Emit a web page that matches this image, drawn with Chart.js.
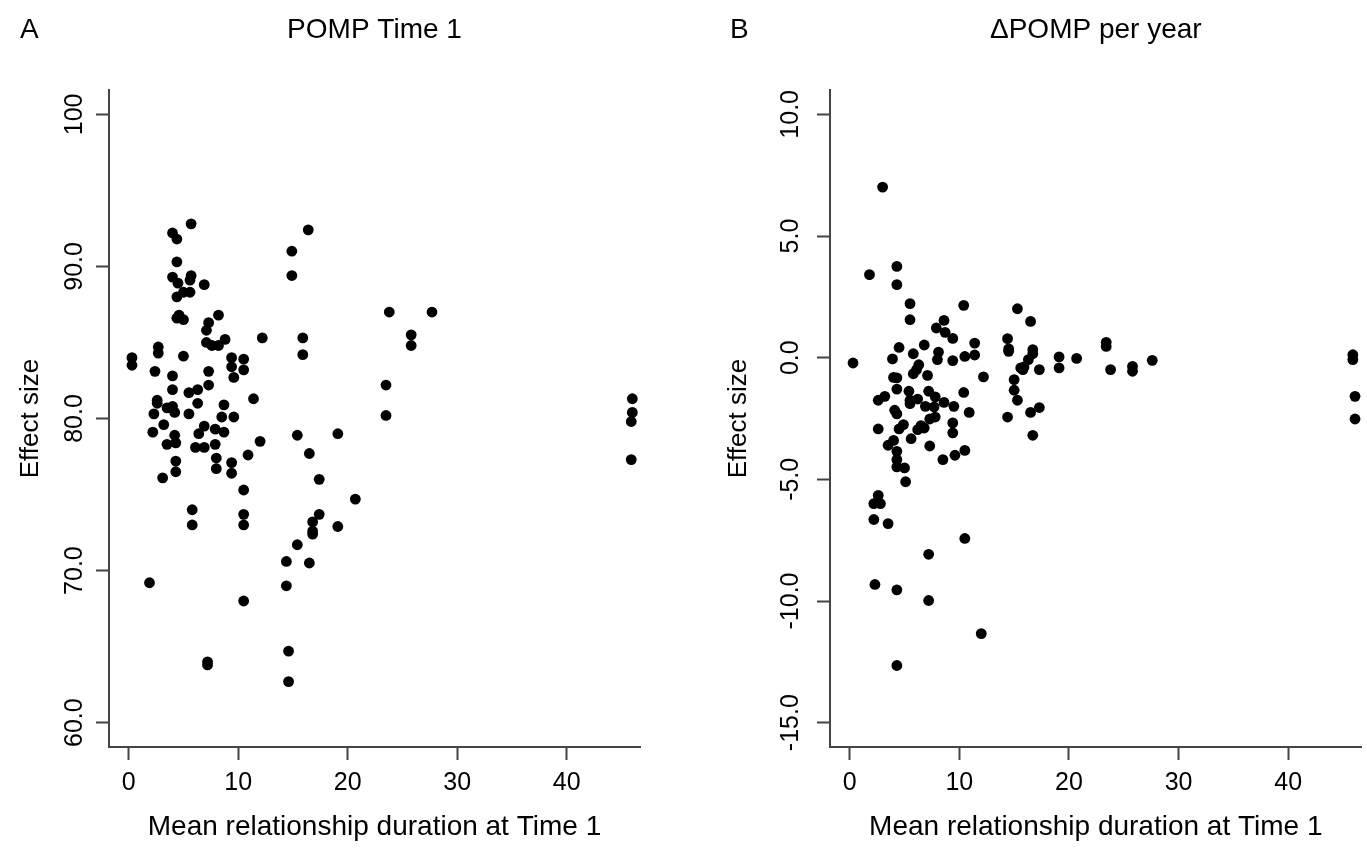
<!DOCTYPE html>
<html>
<head>
<meta charset="utf-8">
<script src="https://cdn.jsdelivr.net/npm/chart.js@4.4.1/dist/chart.umd.min.js"></script>
<style>
	html, body { margin: 0; padding: 0; background: #fff; }
	#wrap { position: relative; width: 1367px; height: 860px; }
	canvas { position: absolute; top: 0; }
	#chartA { left: 0; }
	#chartB { left: 683px; }
</style>
</head>
<body>
<div id="wrap">
	<canvas id="chartA" width="683" height="860"></canvas>
	<canvas id="chartB" width="684" height="860"></canvas>
</div>
<script>
// panel A - POMP at Time 1 against mean relationship duration
const durationA = [5.7, 4.0, 4.4, 4.4, 14.9, 14.9, 4.0, 4.5, 5.7, 5.6, 6.9, 5.0, 5.6, 4.4, 4.4, 5.0, 4.6, 8.2, 7.3, 7.1,
	7.1, 7.6, 8.2, 8.8, 12.2, 2.7, 2.7, 0.3, 0.3, 5.0, 9.4, 9.4, 10.5, 10.5, 2.4, 7.3, 4.0, 9.6, 7.3, 4.0,
	6.3, 5.5, 2.6, 2.6, 11.4, 6.3, 8.7, 3.5, 4.0, 4.2, 2.3, 5.5, 8.5, 9.6, 3.2, 2.2, 6.9, 6.4, 7.9, 8.7,
	4.2, 3.5, 4.3, 6.1, 6.9, 7.9, 12.0, 10.9, 4.3, 4.3, 8.0, 8.0, 9.4, 9.4, 3.1, 10.5, 5.8, 5.8, 10.5, 10.5,
	1.9, 10.5, 7.2, 7.2, 16.4, 23.8, 27.7, 25.8, 25.8, 15.9, 15.9, 23.5, 23.5, 15.4, 19.1, 16.5, 17.4, 20.7, 17.4, 16.8,
	16.8, 16.8, 19.1, 15.4, 14.4, 16.5, 14.4, 14.6, 14.6, 46.0, 46.0, 45.9, 45.9]
const pompA = [92.8, 92.2, 91.8, 90.3, 91.0, 89.4, 89.3, 88.9, 89.4, 89.1, 88.8, 88.3, 88.3, 88.0, 86.6, 86.5, 86.8, 86.8, 86.3, 85.8,
	85.0, 84.8, 84.8, 85.2, 85.3, 84.7, 84.3, 84.0, 83.5, 84.1, 84.0, 83.4, 83.9, 83.2, 83.1, 83.1, 82.8, 82.7, 82.2, 81.9,
	81.9, 81.7, 81.2, 81.0, 81.3, 81.0, 80.9, 80.7, 80.8, 80.4, 80.3, 80.3, 80.1, 80.1, 79.6, 79.1, 79.5, 79.0, 79.3, 79.1,
	78.9, 78.3, 78.4, 78.1, 78.1, 78.3, 78.5, 77.6, 77.2, 76.5, 77.4, 76.7, 77.1, 76.4, 76.1, 75.3, 74.0, 73.0, 73.7, 73.0,
	69.2, 68.0, 64.0, 63.8, 92.4, 87.0, 87.0, 85.5, 84.8, 85.3, 84.2, 82.2, 80.2, 78.9, 79.0, 77.7, 76.0, 74.7, 73.7, 73.2,
	72.6, 72.4, 72.9, 71.7, 70.6, 70.5, 69.0, 64.7, 62.7, 81.3, 80.4, 79.8, 77.3]

// panel B - change in POMP per year
const durationB = [3.0, 1.8, 4.3, 4.3, 5.5, 5.5, 10.4, 15.3, 8.6, 7.9, 8.7, 9.4, 4.5, 6.8, 11.4, 14.4, 14.5, 14.5, 0.3, 3.9,
	5.8, 8.1, 8.0, 9.4, 10.5, 11.4, 6.3, 6.1, 5.8, 4.0, 4.3, 7.1, 12.2, 15.0, 15.6, 4.3, 5.4, 7.2, 10.4, 15.0,
	2.6, 3.2, 5.5, 6.2, 5.5, 7.8, 8.6, 9.5, 6.9, 7.7, 7.8, 7.3, 4.1, 4.3, 10.9, 14.4, 15.3, 2.6, 4.5, 4.9,
	6.2, 6.5, 6.8, 9.4, 9.4, 5.6, 4.0, 3.5, 7.3, 4.3, 4.3, 4.3, 5.0, 8.5, 9.6, 10.5, 5.1, 2.6, 2.2, 2.8,
	2.2, 3.5, 10.5, 7.2, 2.3, 4.3, 7.2, 12.0, 4.3, 16.5, 16.7, 16.7, 16.3, 15.9, 15.8, 17.3, 19.1, 19.1, 20.7, 23.4,
	23.4, 23.8, 25.8, 25.8, 27.6, 16.5, 17.3, 16.7, 45.9, 45.9, 46.1, 46.1]
const deltaB = [7.01, 3.41, 3.75, 3.00, 2.22, 1.56, 2.15, 2.01, 1.53, 1.22, 1.04, 0.79, 0.42, 0.52, 0.60, 0.78, 0.36, 0.26, -0.22, -0.05,
	0.16, 0.23, -0.08, -0.12, 0.05, 0.11, -0.29, -0.49, -0.66, -0.81, -0.83, -0.73, -0.79, -0.90, -0.42, -1.29, -1.38, -1.38, -1.43, -1.34,
	-1.75, -1.59, -1.75, -1.70, -1.89, -1.61, -1.84, -2.00, -2.00, -2.02, -2.44, -2.52, -2.16, -2.31, -2.25, -2.44, -1.75, -2.93, -2.93, -2.75,
	-2.96, -2.79, -2.89, -2.68, -3.09, -3.33, -3.40, -3.60, -3.63, -3.85, -4.19, -4.49, -4.53, -4.19, -4.01, -3.81, -5.10, -5.66, -6.00, -6.00,
	-6.65, -6.82, -7.43, -8.08, -9.32, -9.54, -9.98, -11.34, -12.65, 1.49, 0.33, 0.16, -0.08, -0.38, -0.49, -0.49, 0.03, -0.42, -0.03, 0.63,
	0.46, -0.49, -0.36, -0.56, -0.11, -2.25, -2.05, -3.19, 0.12, -0.08, -1.59, -2.52]

const xTicks = [0, 10, 20, 30, 40]
const xTickLabels = ['0', '10', '20', '30', '40']
const yTicksA = [60, 70, 80, 90, 100]
const yTickLabelsA = ['60.0', '70.0', '80.0', '90.0', '100']
const yTicksB = [-15, -10, -5, 0, 5, 10]
const yTickLabelsB = ['-15.0', '-10.0', '-5.0', '0.0', '5.0', '10.0']

const FONT = '"Liberation Sans", Arial, Helvetica, sans-serif'
const AXIS_COLOR = '#444'

// letter + main title above each panel
const panelTitles = {
	id: 'panelTitles',
	afterDraw(chart, args, opts) {
		const ctx = chart.ctx
		const area = chart.chartArea
		ctx.save()
		ctx.fillStyle = '#000'
		ctx.font = '28px ' + FONT
		ctx.textBaseline = 'middle'
		ctx.textAlign = 'left'
		ctx.fillText(opts.letter, opts.letterX, 30)
		ctx.textAlign = 'center'
		ctx.fillText(opts.text, (area.left + area.right) / 2, 30)
		ctx.restore()
	}
}

function makePanel(id, xs, ys, yTicks, yLabels, setup) {
	const points = xs.map((x, i) => ({ x: x, y: ys[i] }))

	const config = {
		type: 'scatter',
		data: {
			datasets: [{
				data: points,
				backgroundColor: '#000',
				borderWidth: 0,
				pointRadius: 5.4,
				pointHoverRadius: 5.4
			}]
		},
		options: {
			responsive: false,
			animation: false,
			events: [],
			layout: {
				padding: { left: 0, top: 90, right: setup.padRight, bottom: 0 }
			},
			plugins: {
				legend: { display: false },
				tooltip: { enabled: false },
				panelTitles: { letter: setup.letter, letterX: setup.letterX, text: setup.title }
			},
			scales: {
				x: {
					type: 'linear',
					min: -1.8,
					max: 46.7,
					afterBuildTicks: (scale) => {
						scale.ticks = xTicks.map(v => ({ value: v }))
					},
					afterFit: (scale) => {
						scale.height = 113
					},
					ticks: {
						color: '#000',
						font: { family: FONT, size: 25 },
						padding: 8,
						maxRotation: 0,
						callback: (value) => xTickLabels[xTicks.indexOf(value)]
					},
					grid: {
						drawOnChartArea: false,
						drawTicks: true,
						tickLength: 13,
						tickWidth: 2,
						tickColor: AXIS_COLOR
					},
					border: { display: true, color: AXIS_COLOR, width: 2 },
					title: {
						display: true,
						text: 'Mean relationship duration at Time 1',
						color: '#000',
						font: { family: FONT, size: 28 },
						padding: { top: 0, bottom: 16 }
					}
				},
				y: {
					type: 'linear',
					min: setup.yMin,
					max: setup.yMax,
					afterBuildTicks: (scale) => {
						scale.ticks = yTicks.map(v => ({ value: v }))
					},
					afterFit: (scale) => {
						scale.width = setup.yWidth
					},
					ticks: {
						color: '#000',
						font: { family: FONT, size: 25 },
						padding: -3,
						minRotation: 90,
						maxRotation: 90,
						crossAlign: 'center',
						callback: (value) => yLabels[yTicks.indexOf(value)]
					},
					grid: {
						drawOnChartArea: false,
						drawTicks: true,
						tickLength: 13,
						tickWidth: 2,
						tickColor: AXIS_COLOR
					},
					border: { display: true, color: AXIS_COLOR, width: 2 },
					title: {
						display: true,
						text: 'Effect size',
						color: '#000',
						font: { family: FONT, size: 26 },
						padding: { top: setup.yTitlePad, bottom: 0 }
					}
				}
			}
		},
		plugins: [panelTitles]
	}

	return new Chart(document.getElementById(id).getContext('2d'), config)
}

makePanel('chartA', durationA, pompA, yTicksA, yTickLabelsA, {
	letter: 'A', letterX: 20, title: 'POMP Time 1',
	yMin: 58.4, yMax: 101.6, yWidth: 109, padRight: 43, yTitlePad: 15
})

makePanel('chartB', durationB, deltaB, yTicksB, yTickLabelsB, {
	letter: 'B', letterX: 47, title: '\u0394POMP per year',
	yMin: -16, yMax: 11, yWidth: 147, padRight: 5, yTitlePad: 40
})
</script>
</body>
</html>
